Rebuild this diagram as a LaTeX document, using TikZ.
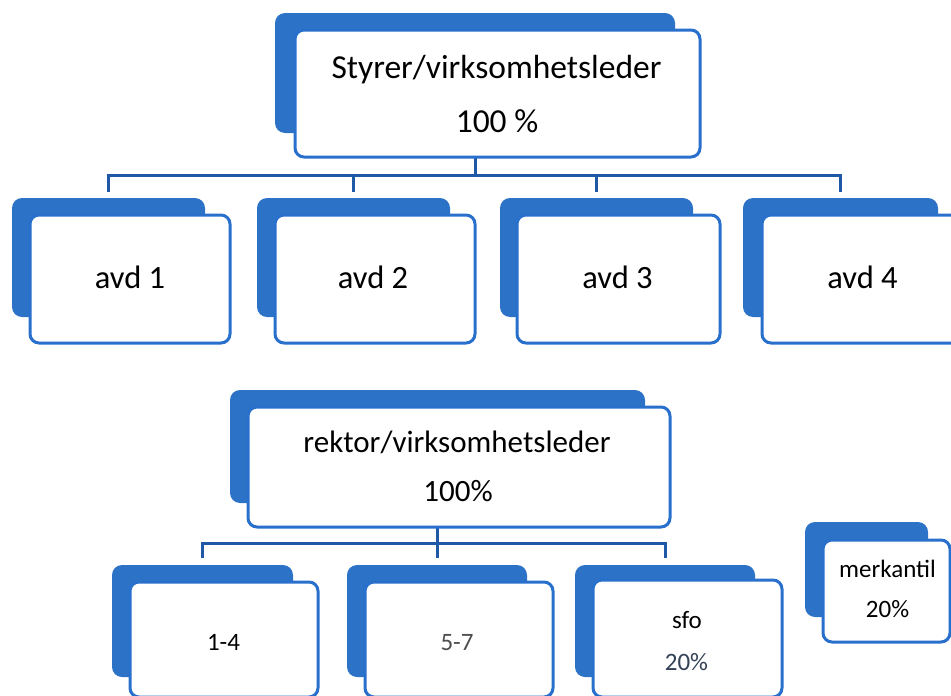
\documentclass[tikz,border=0pt]{standalone}
\usepackage{fontspec}
\setmainfont{Carlito}
\definecolor{plateblue}{RGB}{44,114,198}
\definecolor{edgeblue}{RGB}{40,112,204}
\definecolor{linkblue}{RGB}{30,88,166}
\definecolor{grey57}{RGB}{78,78,78}
\definecolor{slate}{RGB}{52,66,86}
\begin{document}
\begin{tikzpicture}[x=1pt,y=-1pt,
  plate/.style={fill=plateblue, draw=none, rounded corners=10pt, anchor=north west, inner sep=0pt, outer sep=0pt},
  card/.style={draw=edgeblue, line width=3pt, fill=white, rounded corners=9pt, anchor=north west, inner sep=0pt, outer sep=0pt},
  link/.style={draw=linkblue, line width=3pt},
  lbl/.style={anchor=base, inner sep=0pt, text=black}]
\useasboundingbox (0,0) rectangle (951,696);
\clip (0,0) rectangle (951,696);
% coordinates of connector bars
\coordinate (h0) at (475,175);
\coordinate (h1) at (437.5,543);
% back plates (named so connectors can reach them)
\path
  node[plate, minimum width=400pt, minimum height=120pt] (p0) at (275,13) {}
  node[plate, minimum width=193pt, minimum height=119pt] (p1) at (12,198) {}
  node[plate, minimum width=193pt, minimum height=119pt] (p2) at (257,198) {}
  node[plate, minimum width=193pt, minimum height=119pt] (p3) at (500,198) {}
  node[plate, minimum width=195pt, minimum height=119pt] (p4) at (743,198) {}
  node[plate, minimum width=415pt, minimum height=113pt] (q0) at (230,390) {}
  node[plate, minimum width=181pt, minimum height=112pt] (q1) at (112,565) {}
  node[plate, minimum width=180pt, minimum height=112pt] (q2) at (347,565) {}
  node[plate, minimum width=180pt, minimum height=112pt] (q3) at (575,565) {}
  node[plate, minimum width=123pt, minimum height=95pt] (q4) at (805,522) {};
% connectors (drawn below the cards)
\draw[link] (p0.south) -- (h0);
\foreach \n in {p1,p2,p3,p4}{\draw[link, shorten >=6pt] (h0) -| (\n.north);}
\draw[link] (q0.south) -- (h1);
\foreach \n in {q1,q2,q3}{\draw[link, shorten >=7pt] (h1) -| (\n.north);}
% front cards
\node[card, minimum width=405pt, minimum height=127pt] (c0) at (295,30) {};
\node[card, minimum width=200pt, minimum height=128pt] (c1) at (30,215) {};
\node[card, minimum width=200pt, minimum height=128pt] (c2) at (275,215) {};
\node[card, minimum width=203pt, minimum height=128pt] (c3) at (517,215) {};
\node[card, minimum width=205pt, minimum height=128pt] (c4) at (762,215) {};
\node[card, minimum width=422pt, minimum height=120pt] (d0) at (248,407) {};
\node[card, minimum width=188pt, minimum height=115pt] (d1) at (130,582) {};
\node[card, minimum width=188pt, minimum height=115pt] (d2) at (365,582) {};
\node[card, minimum width=189pt, minimum height=117pt] (d3) at (593,580) {};
\node[card, minimum width=127pt, minimum height=102pt] (d4) at (823,540) {};
% texts
\node[lbl, font=\fontsize{33.5}{40}\selectfont] (t0a) at (496.5,78) {Styrer/virksomhetsleder};
\node[lbl, font=\fontsize{33.5}{40}\selectfont] (t0b) at (497,132) {100 \%};
\node[lbl, font=\fontsize{32.5}{38}\selectfont] (t1) at (130,288) {avd 1};
\node[lbl, font=\fontsize{32.5}{38}\selectfont] (t2) at (373,288) {avd 2};
\node[lbl, font=\fontsize{32.5}{38}\selectfont] (t3) at (617.5,288) {avd 3};
\node[lbl, font=\fontsize{32.5}{38}\selectfont] (t4) at (862.5,288) {avd 4};
\node[lbl, font=\fontsize{31}{37}\selectfont] (u0a) at (457,452) {rektor/virksomhetsleder};
\node[lbl, font=\fontsize{31}{37}\selectfont] (u0b) at (458,501) {100\%};
\node[lbl, font=\fontsize{25}{30}\selectfont] (u1) at (223.5,650) {1-4};
\node[lbl, font=\fontsize{25}{30}\selectfont, text=grey57] (u2) at (457,650) {5-7};
\node[lbl, font=\fontsize{25}{30}\selectfont] (u3a) at (687,628) {sfo};
\node[lbl, font=\fontsize{25}{30}\selectfont, text=slate] (u3b) at (686.5,670) {20\%};
\node[lbl, font=\fontsize{25}{30}\selectfont] (u4a) at (887.5,577) {merkantil};
\node[lbl, font=\fontsize{25}{30}\selectfont] (u4b) at (887.5,617) {20\%};
\end{tikzpicture}
\end{document}
